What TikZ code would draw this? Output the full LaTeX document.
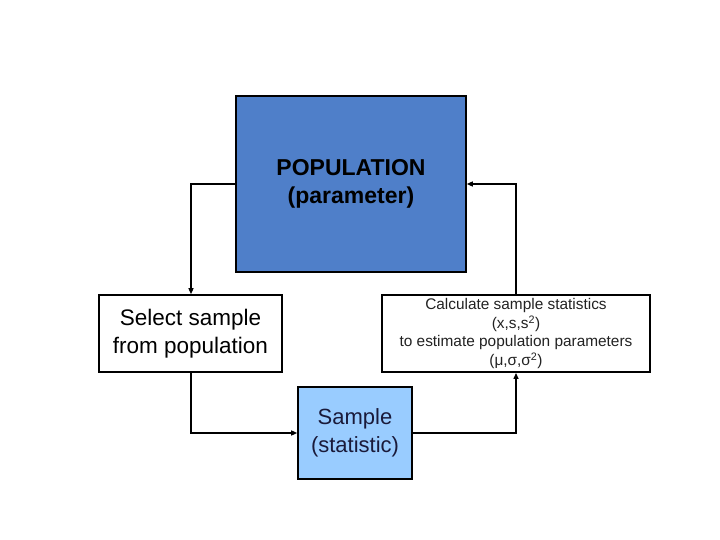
\documentclass[tikz,border=0pt]{standalone}
\usepackage{fontspec}
\setmainfont{Liberation Sans}
\usetikzlibrary{arrows.meta}
\definecolor{popblue}{HTML}{4F7FC9}
\definecolor{samblue}{HTML}{99CCFF}
\definecolor{navytext}{HTML}{1A1A3A}
\definecolor{calctext}{HTML}{222222}
\begin{document}
\begin{tikzpicture}[x=1pt,y=-1pt,
  box/.style={draw=black, line width=1.6pt, inner sep=0pt, align=center},
  conn/.style={draw=black, line width=1.3pt, -{Triangle[length=6pt,width=5pt]}}]
\useasboundingbox (0,0) rectangle (720,540);
\fill[white] (0,0) rectangle (720,540);
\node[box, fill=popblue, minimum width=230pt, minimum height=176pt,
  font=\fontsize{23}{28}\selectfont\bfseries, text=black] (pop) at (351,184)
  {POPULATION\\(parameter)};
\node[box, fill=white, minimum width=183pt, minimum height=77pt,
  font=\fontsize{22.5}{28}\selectfont, text=black] (sel) at (190.5,333.5)
  {Select sample\\from population};
\node[box, fill=white, line width=1.9pt, minimum width=268pt, minimum height=77pt,
  font=\fontsize{15.4}{18.5}\selectfont, text=calctext] (calc) at (516,333.5)
  {Calculate sample statistics\\(x,s,s\textsuperscript{2})\\to estimate population parameters\\(μ,σ,σ\textsuperscript{2})};
\node[box, fill=samblue, minimum width=114pt, minimum height=92pt,
  font=\fontsize{22}{28}\selectfont, text=navytext] (sam) at (355,433)
  {Sample\\(statistic)};
\coordinate (c1) at (191,184);
\coordinate (c2) at (191,433);
\coordinate (c3) at (516,433);
\coordinate (c4) at (516,184);
\draw[conn] (pop.west |- c1) -- (c1) -- (c1 |- sel.north);
\draw[conn] (c2 |- sel.south) -- (c2) -- (sam.west |- c2);
\draw[conn] (sam.east |- c3) -- (c3) -- (c3 |- calc.south);
\draw[conn] (c4 |- calc.north) -- (c4) -- (pop.east |- c4);
\end{tikzpicture}
\end{document}
